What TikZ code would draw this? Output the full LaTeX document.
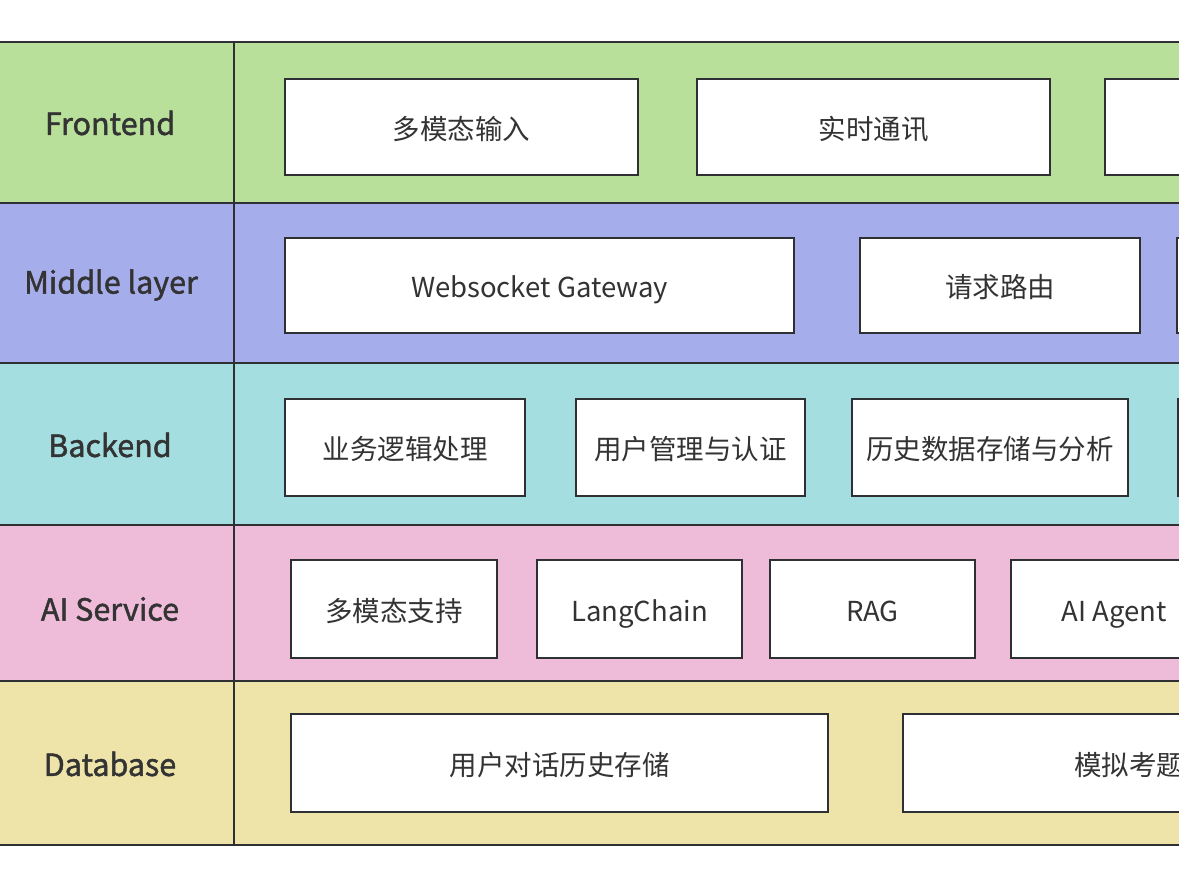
\documentclass[tikz,border=0pt]{standalone}
\usepackage{fontspec}
\setmainfont{Noto Sans CJK SC}
\newfontfamily\labfont[FakeBold=1.5]{Noto Sans CJK SC}
\definecolor{cfront}{HTML}{B9E09B}
\definecolor{cmid}{HTML}{A6ADEB}
\definecolor{cback}{HTML}{A4DEE0}
\definecolor{cai}{HTML}{EEBCD9}
\definecolor{cdb}{HTML}{EEE4AA}
\definecolor{linec}{HTML}{2E3033}
\definecolor{textc}{HTML}{333333}
\tikzset{
  band/.style={draw=linec, line width=1.8pt},
  boxtext/.style={text=textc, font=\fontsize{27.5}{32}\selectfont,
    text height=25.8pt, text depth=1.6pt},
  box/.style={boxtext, draw=linec, fill=white, line width=1.6pt, inner sep=0pt},
  lab/.style={text=textc, font=\labfont\fontsize{30.5}{36}\selectfont}
}
\begin{document}
\begin{tikzpicture}[x=1pt,y=-1pt]
\useasboundingbox (0,0) rectangle (1179,876);
\clip (0,0) rectangle (1179,876);
% bands
\fill[cfront] (-20,42) rectangle (1200,203);
\fill[cmid] (-20,203) rectangle (1200,363);
\fill[cback] (-20,363) rectangle (1200,525);
\fill[cai] (-20,525) rectangle (1200,681);
\fill[cdb] (-20,681) rectangle (1200,845);
\foreach \yy in {42,203,363,525,681,845} \draw[band] (-20,\yy) -- (1200,\yy);
\draw[band] (234,42) -- (234,845);
% labels
\node[lab] (lfront) at (110,123) {Frontend};
\node[lab] (lmid) at (111,285) {Middle layer};
\node[lab] (lback) at (110,445) {Backend};
\node[lab] (lai) at (110,609) {AI Service};
\node[lab] (ldb) at (110,764) {Database};
% frontend
\node[box, minimum width=353, minimum height=96] (f1) at (461.5,127) {多模态输入};
\node[box, minimum width=353, minimum height=96] (f2) at (873.5,127) {实时通讯};
\node[box, minimum width=353, minimum height=96] (f3) at (1281.5,127) {};
% middle
\node[box, minimum width=509, minimum height=95] (m1) at (539.5,285.5) {Websocket Gateway};
\node[box, minimum width=280, minimum height=95] (m2) at (1000,285.5) {请求路由};
\node[box, minimum width=280, minimum height=95] (m3) at (1317,285.5) {};
% backend
\node[box, minimum width=240, minimum height=97] (b1) at (405,447.5) {业务逻辑处理};
\node[box, minimum width=229, minimum height=97] (b2) at (690.5,447.5) {用户管理与认证};
\node[box, minimum width=276, minimum height=97] (b3) at (990,447.5) {历史数据存储与分析};
\node[box, minimum width=240, minimum height=97] (b4) at (1298,447.5) {};
% ai
\node[box, minimum width=206, minimum height=98] (a1) at (394,609) {多模态支持};
\node[box, minimum width=205, minimum height=98] (a2) at (639.5,609) {LangChain};
\node[box, minimum width=205, minimum height=98] (a3) at (872.5,609) {RAG};
\node[box, minimum width=206, minimum height=98] (a4) at (1114,609) {AI Agent};
% database
\node[box, minimum width=537, minimum height=98] (d1) at (559.5,763) {用户对话历史存储};
\node[box, minimum width=537, minimum height=98] (d2) at (1171.5,763) {};
\node[boxtext, anchor=west, inner sep=0pt] (d2t) at (1074,763) {模拟考题};
\end{tikzpicture}
\end{document}
